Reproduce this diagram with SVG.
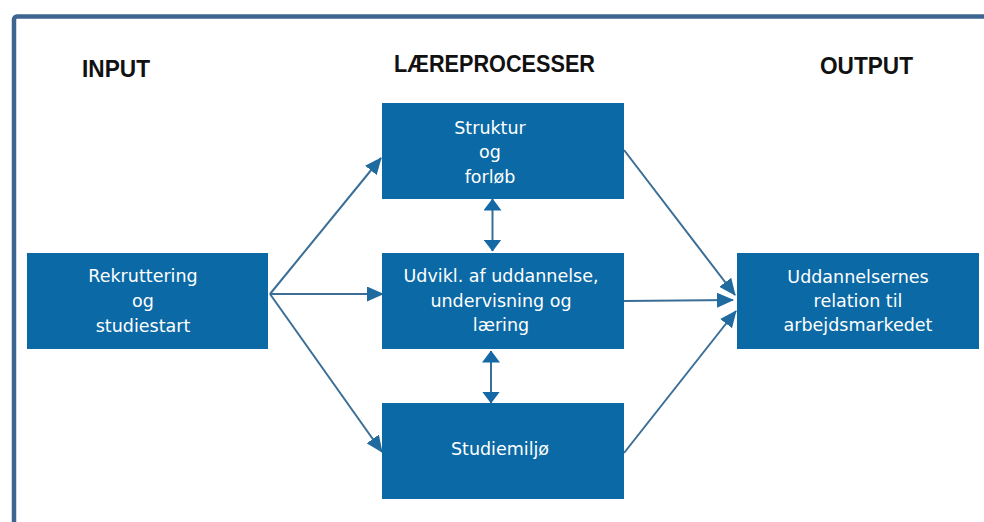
<svg xmlns="http://www.w3.org/2000/svg" width="984" height="522" viewBox="0 0 984 522">
  <style>
    .box { fill: #0b69a5; }
    .head { font-family: "Liberation Sans", Arial, sans-serif; font-weight: bold; font-size: 23px; fill: #111111; }
    .lbl { font-family: "DejaVu Sans", "Liberation Sans", sans-serif; font-size: 17.5px; fill: #ffffff; text-anchor: middle; }
    .conn { stroke: #3a6e96; stroke-width: 2; fill: none; }
    .vconn { stroke: #3a6e96; stroke-width: 2; fill: none; }
  </style>
  <defs>
    <marker id="arr" markerUnits="userSpaceOnUse" markerWidth="17" markerHeight="15" refX="16" refY="7.5" orient="auto">
      <path d="M0,0 L17,7.5 L0,15 z" fill="#1f6a9e"/>
    </marker>
    <marker id="varr" markerUnits="userSpaceOnUse" markerWidth="12" markerHeight="18" refX="11.5" refY="9" orient="auto-start-reverse">
      <path d="M0,0 L12,9 L0,18 z" fill="#1468a6"/>
    </marker>
  </defs>
  <rect x="0" y="0" width="984" height="522" fill="#ffffff"/>
  <rect id="frame" x="14" y="16.5" width="1000" height="560" rx="3" fill="none" stroke="#3e6591" stroke-width="4.5"/>

  <g id="headings">
    <text class="head" x="82" y="77" textLength="68" lengthAdjust="spacingAndGlyphs">INPUT</text>
    <text class="head" x="394" y="72" textLength="201" lengthAdjust="spacingAndGlyphs">LÆREPROCESSER</text>
    <text class="head" x="820" y="74" textLength="93" lengthAdjust="spacingAndGlyphs">OUTPUT</text>
  </g>

  <g id="connectors">
    <line class="conn" x1="270" y1="294" x2="381" y2="158" marker-end="url(#arr)"/>
    <line class="conn" x1="270" y1="294" x2="383" y2="294" marker-end="url(#arr)"/>
    <line class="conn" x1="270" y1="294" x2="382" y2="452" marker-end="url(#arr)"/>
    <line class="conn" x1="624" y1="150" x2="735" y2="295" marker-end="url(#arr)"/>
    <line class="conn" x1="624" y1="301" x2="733" y2="300" marker-end="url(#arr)"/>
    <line class="conn" x1="624" y1="453" x2="736" y2="311" marker-end="url(#arr)"/>
    <line class="vconn" x1="492.5" y1="199" x2="492.5" y2="251" marker-start="url(#varr)" marker-end="url(#varr)"/>
    <line class="vconn" x1="491" y1="351" x2="491" y2="403" marker-start="url(#varr)" marker-end="url(#varr)"/>
  </g>

  <g id="node-rekruttering">
    <rect class="box" x="27" y="253" width="241" height="96"/>
    <text class="lbl" x="143" y="282">Rekruttering</text>
    <text class="lbl" x="143" y="307">og</text>
    <text class="lbl" x="143" y="332">studiestart</text>
  </g>

  <g id="node-struktur">
    <rect class="box" x="382" y="103" width="242" height="96"/>
    <text class="lbl" x="490" y="134">Struktur</text>
    <text class="lbl" x="490" y="158">og</text>
    <text class="lbl" x="490" y="183">forløb</text>
  </g>

  <g id="node-udvikl">
    <rect class="box" x="382" y="253" width="242" height="96"/>
    <text class="lbl" x="501" y="282">Udvikl. af uddannelse,</text>
    <text class="lbl" x="501" y="307">undervisning og</text>
    <text class="lbl" x="501" y="331">læring</text>
  </g>

  <g id="node-studiemiljo">
    <rect class="box" x="382" y="403" width="242" height="96"/>
    <text class="lbl" x="500" y="455">Studiemiljø</text>
  </g>

  <g id="node-uddannelsernes">
    <rect class="box" x="737" y="253" width="242" height="96"/>
    <text class="lbl" x="858" y="283">Uddannelsernes</text>
    <text class="lbl" x="858" y="307">relation til</text>
    <text class="lbl" x="858" y="331">arbejdsmarkedet</text>
  </g>
</svg>
